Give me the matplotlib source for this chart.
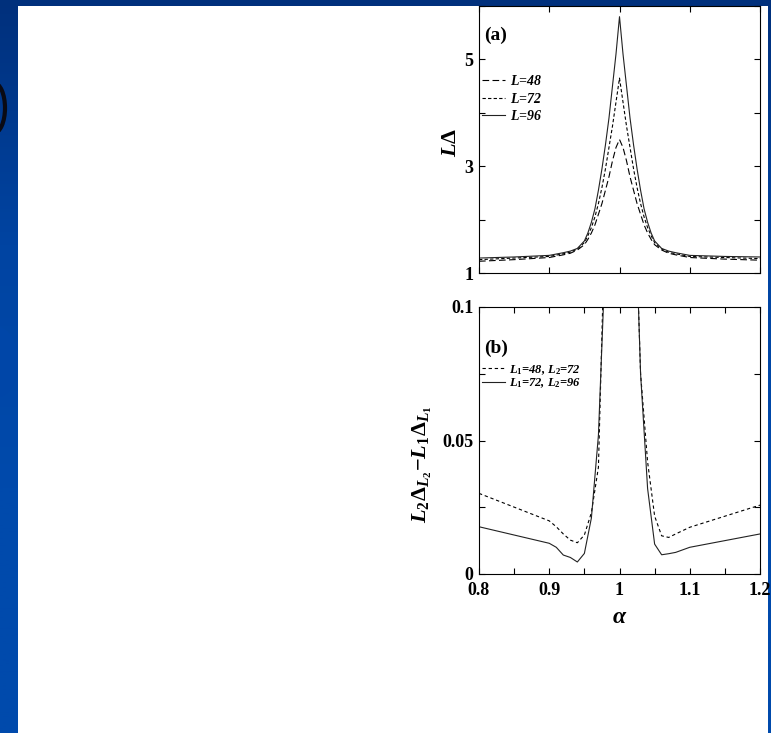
import matplotlib
matplotlib.use("Agg")
import matplotlib.pyplot as plt
from matplotlib.patches import Rectangle, Ellipse
from matplotlib.ticker import MultipleLocator, FixedLocator, FuncFormatter
import numpy as np

# gnuplot-like look: bold Times-ish text
plt.rcParams['font.family'] = ['Liberation Serif', 'DejaVu Serif']
plt.rcParams['font.weight'] = 'bold'
plt.rcParams['mathtext.fontset'] = 'custom'
plt.rcParams['mathtext.rm'] = 'Liberation Serif:bold'
plt.rcParams['mathtext.bf'] = 'Liberation Serif:bold'
plt.rcParams['mathtext.it'] = 'Liberation Serif:italic'
plt.rcParams['mathtext.bfit'] = 'Liberation Serif:bold:italic'

# panel (a): L*Delta against alpha for three sizes
alpha_a = [0.80, 0.85, 0.90, 0.92, 0.93, 0.94, 0.95, 0.955, 0.96, 0.965, 0.97,
           0.975, 0.98, 0.985, 0.99, 0.995, 1.00, 1.005, 1.01, 1.015, 1.02,
           1.025, 1.03, 1.035, 1.04, 1.045, 1.05, 1.06, 1.07, 1.08, 1.10,
           1.15, 1.20]
ld_48 = [1.22, 1.25, 1.29, 1.34, 1.37, 1.43, 1.53, 1.63, 1.75, 1.90, 2.10,
         2.30, 2.55, 2.80, 3.10, 3.35, 3.50, 3.35, 3.10, 2.80, 2.55,
         2.30, 2.10, 1.90, 1.75, 1.63, 1.53, 1.43, 1.37, 1.34, 1.29,
         1.26, 1.24]
ld_72 = [1.25, 1.28, 1.31, 1.36, 1.39, 1.45, 1.57, 1.70, 1.85, 2.05, 2.30,
         2.60, 2.95, 3.35, 3.75, 4.20, 4.65, 4.20, 3.75, 3.35, 2.95,
         2.60, 2.30, 2.05, 1.85, 1.70, 1.57, 1.45, 1.39, 1.36, 1.31,
         1.29, 1.27]
ld_96 = [1.28, 1.30, 1.33, 1.38, 1.41, 1.46, 1.60, 1.75, 1.95, 2.20, 2.55,
         2.95, 3.40, 3.90, 4.50, 5.10, 5.80, 5.10, 4.50, 3.90, 3.40,
         2.95, 2.55, 2.20, 1.95, 1.75, 1.60, 1.46, 1.41, 1.38, 1.33,
         1.31, 1.30]

# panel (b): L2*Delta_L2 - L1*Delta_L1
alpha_b = [0.80, 0.90, 0.91, 0.92, 0.93, 0.94, 0.95, 0.96, 0.97, 0.98, 0.99,
           1.00, 1.01, 1.02, 1.03, 1.04, 1.05, 1.06, 1.07, 1.08, 1.10, 1.20]
diff_48_72 = [0.0302, 0.0199, 0.0177, 0.0150, 0.0127, 0.0117, 0.0146, 0.0230,
              0.0400, 0.1400, 0.6000, 1.1500, 0.6000, 0.1600, 0.0750, 0.0420,
              0.0217, 0.0143, 0.0137, 0.0150, 0.0175, 0.0258]
diff_72_96 = [0.0177, 0.0115, 0.0100, 0.0071, 0.0062, 0.0045, 0.0077, 0.0210,
              0.0520, 0.1200, 0.6000, 1.1500, 0.6000, 0.1580, 0.0750, 0.0320,
              0.0112, 0.0072, 0.0076, 0.0081, 0.0100, 0.0150]

W, H = 771, 733
fig = plt.figure(figsize=(W / 100, H / 100), dpi=100)

# slide background: blue frame with a white page
bg = fig.add_axes([0, 0, 1, 1], zorder=-5)
grad = np.linspace(0, 1, 256).reshape(-1, 1)
blues = matplotlib.colors.LinearSegmentedColormap.from_list(
    'b', ['#00307c', '#0044a2', '#004aac', '#004aac'])
bg.imshow(grad, extent=[0, W, H, 0], aspect='auto', cmap=blues)
bg.add_patch(Ellipse((-2, 362), 40, 70, color='#0046a8', lw=0))
bg.add_patch(Ellipse((-6, 108), 22, 50, fill=False, edgecolor='#0a0a14', lw=3))
bg.add_patch(Rectangle((18, 6), 768 - 18, H - 6, color='white', lw=0))
bg.set_xlim(0, W)
bg.set_ylim(H, 0)
bg.axis('off')


def fmt(v, pos):
    return '%g' % round(v, 4)


def style(ax):
    ax.tick_params(which='both', direction='in', top=True, right=True,
                   length=4, width=0.8, labelsize=13, pad=4)
    ax.tick_params(axis='x', pad=6)
    for s in ax.spines.values():
        s.set_linewidth(0.8)


ax1 = fig.add_axes([479 / W, 1 - 273 / H, 281 / W, 267 / H])
ax1.plot(alpha_a, ld_48, color='black', lw=0.8, dashes=(6, 3), label=r'$\mathbfit{L}$=48')
ax1.plot(alpha_a, ld_72, color='black', lw=0.8, dashes=(3, 2), label=r'$\mathbfit{L}$=72')
ax1.plot(alpha_a, ld_96, color='#222222', lw=0.8, label=r'$\mathbfit{L}$=96')
ax1.set_xlim(0.8, 1.2)
ax1.set_ylim(1, 6)
ax1.xaxis.set_major_locator(MultipleLocator(0.1))
ax1.set_xticklabels([])
ax1.yaxis.set_major_locator(FixedLocator([1, 3, 5]))
ax1.yaxis.set_minor_locator(FixedLocator([2, 4, 6]))
ax1.yaxis.set_major_formatter(FuncFormatter(fmt))
style(ax1)
ax1.set_ylabel(r'$\mathbfit{L}\mathbf{\Delta}$', fontsize=16)
ax1.yaxis.set_label_coords(-0.065, 0.49)
ax1.text(0.02, 0.89, '(a)', transform=ax1.transAxes, fontsize=14, va='center')
ax1.legend(loc='upper left', bbox_to_anchor=(0.0, 0.755), frameon=False,
           handlelength=1.7, handletextpad=0.3, labelspacing=0.25, borderpad=0.2,
           borderaxespad=0, prop={'size': 10, 'weight': 'bold', 'style': 'italic'})

ax2 = fig.add_axes([479 / W, 1 - 574 / H, 281 / W, 267 / H])
ax2.plot(alpha_b, diff_48_72, color='black', lw=0.8, dashes=(3, 2.5),
         label=r'$\mathbfit{L}_\mathbf{1}$=48, $\mathbfit{L}_\mathbf{2}$=72')
ax2.plot(alpha_b, diff_72_96, color='#222222', lw=0.8,
         label=r'$\mathbfit{L}_\mathbf{1}$=72, $\mathbfit{L}_\mathbf{2}$=96')
ax2.set_xlim(0.8, 1.2)
ax2.set_ylim(0, 0.1)
ax2.xaxis.set_major_locator(MultipleLocator(0.1))
ax2.xaxis.set_minor_locator(MultipleLocator(0.05))
ax2.xaxis.set_major_formatter(FuncFormatter(fmt))
ax2.yaxis.set_major_locator(MultipleLocator(0.05))
ax2.yaxis.set_minor_locator(MultipleLocator(0.025))
ax2.yaxis.set_major_formatter(FuncFormatter(fmt))
style(ax2)
ax2.set_xlabel(r'$\alpha$', fontsize=17)
ax2.xaxis.set_label_coords(0.5, -0.125)
ax2.set_ylabel(r'$\mathbfit{L}_\mathbf{2}\mathbf{\Delta}_{\mathbfit{L}_\mathbf{2}}\mathbf{-}'
               r'\mathbfit{L}_\mathbf{1}\mathbf{\Delta}_{\mathbfit{L}_\mathbf{1}}$', fontsize=16)
ax2.yaxis.set_label_coords(-0.16, 0.41)
ax2.text(0.02, 0.845, '(b)', transform=ax2.transAxes, fontsize=14, va='center')
ax2.legend(loc='upper left', bbox_to_anchor=(0.0, 0.80), frameon=False,
           handlelength=1.9, handletextpad=0.3, labelspacing=0.0, borderpad=0.2,
           borderaxespad=0, prop={'size': 9, 'weight': 'bold', 'style': 'italic'})

fig.savefig('out.png', dpi=100)
